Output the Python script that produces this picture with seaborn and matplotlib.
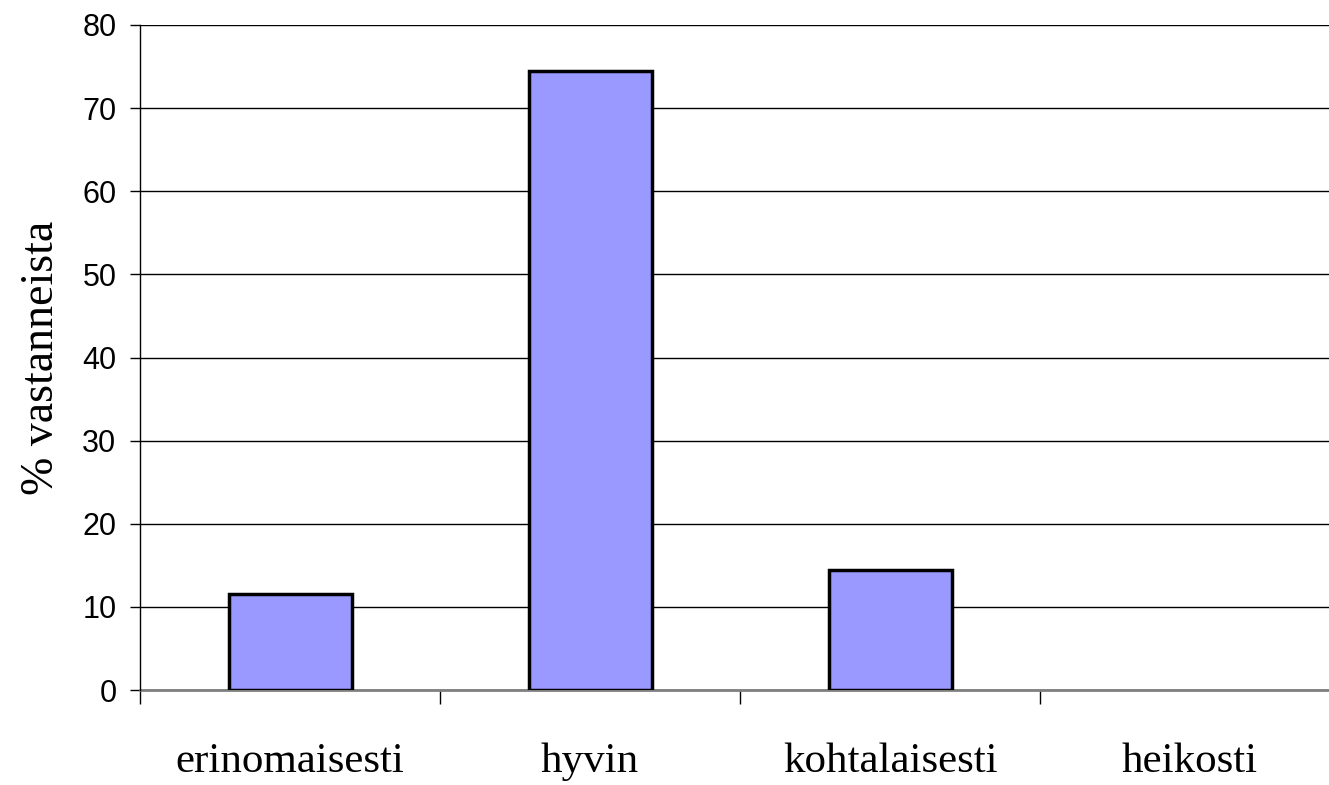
import matplotlib
matplotlib.use("Agg")
import matplotlib.pyplot as plt
import seaborn as sns
import pandas as pd

categories = ["erinomaisesti", "hyvin", "kohtalaisesti", "heikosti"]
values = [11.6, 74.5, 14.4, 0.0]
yticks = [0, 10, 20, 30, 40, 50, 60, 70, 80]

df = pd.DataFrame({"Arvio": categories, "Osuus": values})

sns.set_style("white")
plt.rcParams["font.family"] = ["Liberation Sans", "DejaVu Sans"]

fig = plt.figure(figsize=(13.29, 7.85), dpi=100)
ax = fig.add_axes([140 / 1329, 1 - 690 / 785, 1200 / 1329, 665 / 785])

sns.barplot(x="Arvio", y="Osuus", data=df, ax=ax, color="#9999FF",
            edgecolor="black", linewidth=2.5, width=0.41, saturation=1, zorder=3)
# empty bar: no outline, like the original
for p, v in zip(ax.patches, values):
    if v == 0:
        p.set_linewidth(0)

ax.set_xlim(-0.5, 3.5)
ax.set_ylim(0, 80)
ax.set_yticks(yticks)
ax.set_yticklabels([str(t) for t in yticks], fontsize=22, color="black")
ax.yaxis.grid(True, color="black", linewidth=1)
ax.set_axisbelow(True)
ax.axhline(0, color="#808080", linewidth=2, clip_on=False, zorder=2)

# category labels in serif, ticks at the category boundaries
ax.set_xticks([0, 1, 2, 3])
ax.set_xticklabels(categories, fontsize=31, family=["Liberation Serif"], color="black")
ax.tick_params(axis="x", which="major", length=0, pad=38, bottom=True)
ax.set_xticks([-0.5, 0.5, 1.5, 2.5, 3.5], minor=True)
ax.tick_params(axis="x", which="minor", length=10, width=1, color="black",
               direction="out", bottom=True)
ax.tick_params(axis="y", length=7, width=1, color="black", direction="out",
               left=True, pad=10)

for side in ["top", "right", "bottom"]:
    ax.spines[side].set_visible(False)
ax.spines["left"].set_color("black")
ax.spines["left"].set_bounds(0, 80)
ax.spines["left"].set_linewidth(1)

ax.set_xlabel("")
ax.set_ylabel("% vastanneista", fontsize=33, family=["Liberation Serif"],
              color="black", labelpad=14)

fig.savefig("out.png", dpi=100)
